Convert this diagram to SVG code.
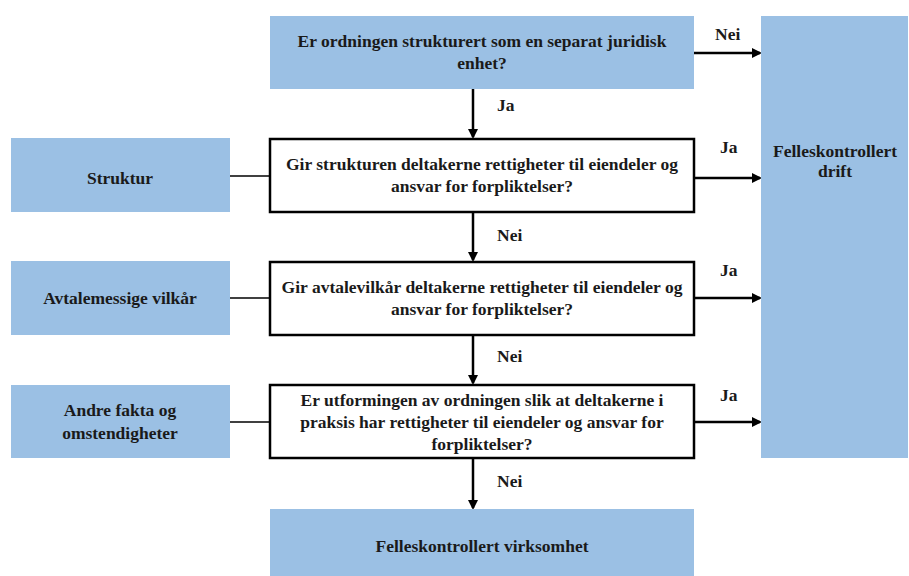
<svg xmlns="http://www.w3.org/2000/svg" width="909" height="576" viewBox="0 0 909 576">
<defs>
<style>
.blue{fill:#9bc0e4;}
.q{fill:#fff;stroke:#000;stroke-width:2.5;}
text{font-weight:bold;font-size:17.5px;fill:#1a1a1a;text-anchor:middle;}
.lbl{text-anchor:start;}
.c{stroke:#000;stroke-width:2.5;fill:none;}
.t{stroke:#000;stroke-width:1.5;fill:none;}
</style>
<marker id="ah" markerWidth="10" markerHeight="10" refX="8" refY="5" orient="auto" markerUnits="userSpaceOnUse" viewBox="0 0 10 10">
<path d="M0,0 L10,5 L0,10 z" fill="#000"/>
</marker>
</defs>
<rect width="909" height="576" fill="#fff"/>
<g font-family="Liberation Serif, Times New Roman, serif">
<g id="connectors">
<line class="c" x1="473" y1="89" x2="473" y2="137" marker-end="url(#ah)"/>
<line class="c" x1="473" y1="212" x2="473" y2="260" marker-end="url(#ah)"/>
<line class="c" x1="473" y1="335" x2="473" y2="383" marker-end="url(#ah)"/>
<line class="c" x1="473" y1="458" x2="473" y2="508" marker-end="url(#ah)"/>
<line class="c" x1="694" y1="53" x2="760" y2="53" marker-end="url(#ah)"/>
<line class="c" x1="694" y1="178" x2="760" y2="178" marker-end="url(#ah)"/>
<line class="c" x1="694" y1="298" x2="760" y2="298" marker-end="url(#ah)"/>
<line class="c" x1="694" y1="422" x2="760" y2="422" marker-end="url(#ah)"/>
<line class="t" x1="230" y1="176" x2="270" y2="176"/>
<line class="t" x1="230" y1="298" x2="270" y2="298"/>
<line class="t" x1="230" y1="422" x2="270" y2="422"/>
<text class="lbl" x="497" y="111">Ja</text>
<text class="lbl" x="497" y="241">Nei</text>
<text class="lbl" x="497" y="362">Nei</text>
<text class="lbl" x="497" y="487">Nei</text>
<text class="lbl" x="715" y="40">Nei</text>
<text class="lbl" x="720" y="153">Ja</text>
<text class="lbl" x="720" y="276">Ja</text>
<text class="lbl" x="720" y="401">Ja</text>
</g>
<g id="q1">
<rect class="blue" x="270" y="16" width="424" height="73"/>
<text x="482" y="47">Er ordningen strukturert som en separat juridisk</text>
<text x="482" y="69">enhet?</text>
</g>
<g id="q2">
<rect class="q" x="270" y="139" width="424" height="73"/>
<text x="482" y="170">Gir strukturen deltakerne rettigheter til eiendeler og</text>
<text x="482" y="192">ansvar for forpliktelser?</text>
</g>
<g id="q3">
<rect class="q" x="270" y="262" width="424" height="73"/>
<text x="482" y="293">Gir avtalevilkår deltakerne rettigheter til eiendeler og</text>
<text x="482" y="315">ansvar for forpliktelser?</text>
</g>
<g id="q4">
<rect class="q" x="270" y="385" width="424" height="73"/>
<text x="482" y="406">Er utformingen av ordningen slik at deltakerne i</text>
<text x="482" y="428">praksis har rettigheter til eiendeler og ansvar for</text>
<text x="482" y="450">forpliktelser?</text>
</g>
<g id="drift">
<rect class="blue" x="761" y="16" width="147" height="442"/>
<text x="835" y="157">Felleskontrollert</text>
<text x="835" y="177">drift</text>
</g>
<g id="virksomhet">
<rect class="blue" x="270" y="509" width="424" height="67"/>
<text x="482" y="552">Felleskontrollert virksomhet</text>
</g>
<g id="struktur">
<rect class="blue" x="11" y="138" width="219" height="74"/>
<text x="120" y="184">Struktur</text>
</g>
<g id="avtale">
<rect class="blue" x="11" y="261" width="219" height="74"/>
<text x="120" y="304">Avtalemessige vilkår</text>
</g>
<g id="andre">
<rect class="blue" x="11" y="385" width="219" height="73"/>
<text x="120" y="416">Andre fakta og</text>
<text x="120" y="439">omstendigheter</text>
</g>
</g>
</svg>
